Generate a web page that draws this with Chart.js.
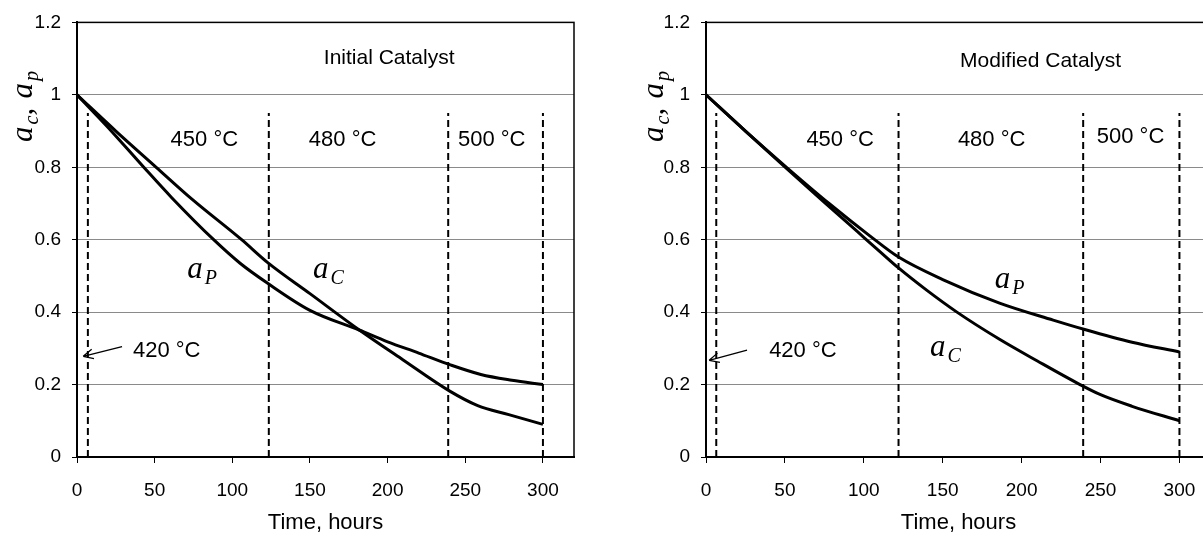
<!DOCTYPE html>
<html lang="en">
<head>
<meta charset="UTF-8" />
<title>Catalyst activity vs time</title>
<script src="https://cdn.jsdelivr.net/npm/chart.js"></script>
<style>
  body { margin: 0; width: 1203px; height: 540px; overflow: hidden; background: #fff; position: relative; }
  .box { position: absolute; top: 0; height: 540px; width: 600px; }
</style>
</head>
<body>
<div class="box" style="left:0"><canvas id="initialChart" width="600" height="540"></canvas></div>
<div class="box" style="left:629px"><canvas id="modifiedChart" width="600" height="540"></canvas></div>
<script>
// x axis ticks (hours)
const xTicks = [0, 50, 100, 150, 200, 250, 300];

// Initial catalyst
const initHoursC = [0, 25, 51, 74, 106, 123, 150, 182, 210, 240, 258, 278, 300];
const initAc     = [1.0, 0.90, 0.80, 0.712, 0.60, 0.536, 0.451, 0.35, 0.268, 0.182, 0.142, 0.117, 0.09];
const initHoursP = [0, 20, 43, 61, 88, 105, 123, 150, 182, 200, 220, 240, 260, 280, 300];
const initAp     = [1.0, 0.91, 0.80, 0.716, 0.60, 0.535, 0.479, 0.405, 0.35, 0.318, 0.287, 0.255, 0.228, 0.212, 0.20];
const initSteps  = [7, 123.5, 239, 300];

// Modified catalyst
const modHoursC = [0, 25, 51, 75, 96, 110, 122, 140, 159, 186, 210, 237, 250, 270, 300];
const modAc     = [1.0, 0.90, 0.797, 0.703, 0.622, 0.568, 0.522, 0.46, 0.40, 0.325, 0.265, 0.20, 0.172, 0.14, 0.10];
const modHoursP = [0, 25, 51, 78, 104, 122, 150, 186, 220, 240, 270, 300];
const modAp     = [1.0, 0.90, 0.80, 0.70, 0.61, 0.552, 0.49, 0.425, 0.378, 0.352, 0.317, 0.29];
const modSteps  = [6.5, 122, 239, 300];

const stepTop = 0.95;
const tempLabels = ['450 °C', '480 °C', '500 °C'];

const SANS = '"Liberation Sans", Arial, sans-serif';
const SERIF = '"Liberation Serif", "Times New Roman", serif';

function pts(xs, ys) {
  return xs.map((x, i) => ({ x: x, y: ys[i] }));
}

// italic "a" with a subscript, returns width used
function drawA(ctx, x, y, sub, size) {
  ctx.font = 'italic ' + size + 'px ' + SERIF;
  ctx.fillText('a', x, y);
  const w = ctx.measureText('a').width;
  ctx.font = 'italic ' + Math.round(size * 0.64) + 'px ' + SERIF;
  ctx.fillText(sub, x + w + 2, y + size * 0.2);
  return w + 2 + ctx.measureText(sub).width;
}

const notesPlugin = {
  id: 'notes',
  afterDatasetsDraw(chart, args, o) {
    const ctx = chart.ctx;
    const xs = chart.scales.x, ys = chart.scales.y;
    const area = chart.chartArea;
    const px = v => xs.getPixelForValue(v);
    const py = v => ys.getPixelForValue(v);
    ctx.save();

    // frame round the plot
    ctx.strokeStyle = '#000';
    ctx.lineWidth = 1.5;
    ctx.strokeRect(area.left, area.top, area.right - area.left, area.bottom - area.top);

    ctx.fillStyle = '#000';
    ctx.textBaseline = 'middle';
    ctx.textAlign = 'center';
    ctx.font = '21px ' + SANS;
    ctx.fillText(o.title, px(o.titleAt[0]), py(o.titleAt[1]));

    ctx.font = '22px ' + SANS;
    tempLabels.forEach((t, i) => ctx.fillText(t, px(o.tempAt[i][0]), py(o.tempAt[i][1])));

    // 420 °C with arrow to the axis
    ctx.textAlign = 'left';
    ctx.fillText('420 °C', px(o.lowAt[0]), py(o.lowAt[1]));
    const x1 = px(o.arrow[0]), y1 = py(o.arrow[1]), x2 = px(o.arrow[2]), y2 = py(o.arrow[3]);
    ctx.lineWidth = 1.3;
    ctx.beginPath();
    ctx.moveTo(x1, y1);
    ctx.lineTo(x2, y2);
    const ang = Math.atan2(y2 - y1, x2 - x1);
    [0.45, -0.45].forEach(d => {
      ctx.moveTo(x2, y2);
      ctx.lineTo(x2 - 11 * Math.cos(ang + d), y2 - 11 * Math.sin(ang + d));
    });
    ctx.stroke();

    // curve labels
    ctx.textBaseline = 'alphabetic';
    drawA(ctx, px(o.apAt[0]), py(o.apAt[1]), 'P', 31);
    drawA(ctx, px(o.acAt[0]), py(o.acAt[1]), 'C', 31);

    // y axis title, rotated
    ctx.translate(o.yTitle[0], o.yTitle[1]);
    ctx.rotate(-Math.PI / 2);
    let x = -42;
    x += drawA(ctx, x, 0, 'c', 31);
    ctx.font = 'italic 31px ' + SERIF;
    ctx.fillText(',', x, 0);
    x += 17;
    drawA(ctx, x, 0, 'p', 31);
    ctx.restore();
  }
};

function makeChart(id, hc, ac, hp, ap, steps, pad, notes) {
  const datasets = [
    { data: pts(hc, ac) },
    { data: pts(hp, ap) }
  ].map(d => Object.assign(d, {
    borderColor: '#000', borderWidth: 3, pointRadius: 0,
    cubicInterpolationMode: 'monotone', fill: false
  }));
  steps.forEach(s => datasets.push({
    data: [{ x: s, y: 0 }, { x: s, y: stepTop }],
    borderColor: '#000', borderWidth: 2, borderDash: [7, 4],
    pointRadius: 0, fill: false
  }));

  new Chart(document.getElementById(id), {
    type: 'line',
    data: { datasets: datasets },
    options: {
      responsive: false,
      animation: false,
      devicePixelRatio: 1,
      layout: { padding: pad },
      plugins: { legend: { display: false }, tooltip: { enabled: false }, notes: notes },
      scales: {
        x: {
          type: 'linear', min: 0, max: 320,
          afterBuildTicks: s => { s.ticks = xTicks.map(v => ({ value: v })); },
          afterFit: s => { s.height = 79; },
          grid: { drawOnChartArea: false, tickLength: 6, color: '#000' },
          border: { color: '#000', width: 2 },
          ticks: { color: '#000', padding: 16, font: { family: SANS, size: 19 }, maxRotation: 0 },
          title: { display: true, text: 'Time, hours', color: '#000', font: { family: SANS, size: 22 }, padding: { top: 0, bottom: 0 } }
        },
        y: {
          min: 0, max: 1.2,
          ticks: {
            stepSize: 0.2, color: '#000', padding: 11, font: { family: SANS, size: 19 },
            callback: v => String(+v.toFixed(1))
          },
          afterFit: s => { s.width = 77; },
          grid: { color: '#8a8a8a', lineWidth: 1, tickLength: 5, tickColor: '#000' },
          border: { color: '#000', width: 2 }
        }
      }
    },
    plugins: [notesPlugin]
  });
}

makeChart('initialChart', initHoursC, initAc, initHoursP, initAp, initSteps,
  { top: 21, right: 26, bottom: 4, left: 0 },
  {
    title: 'Initial Catalyst', titleAt: [201, 1.10],
    tempAt: [[82, 0.875], [171, 0.875], [267, 0.875]],
    lowAt: [36, 0.292], arrow: [29, 0.305, 4, 0.278],
    apAt: [71, 0.494], acAt: [152, 0.494],
    yTitle: [32, 100]
  });

makeChart('modifiedChart', modHoursC, modAc, modHoursP, modAp, modSteps,
  { top: 21, right: 18, bottom: 4, left: 0 },
  {
    title: 'Modified Catalyst', titleAt: [212, 1.094],
    tempAt: [[85, 0.875], [181, 0.875], [269, 0.884]],
    lowAt: [40, 0.292], arrow: [26, 0.295, 2, 0.267],
    apAt: [183, 0.466], acAt: [142, 0.28],
    yTitle: [34, 100]
  });
</script>
</body>
</html>
